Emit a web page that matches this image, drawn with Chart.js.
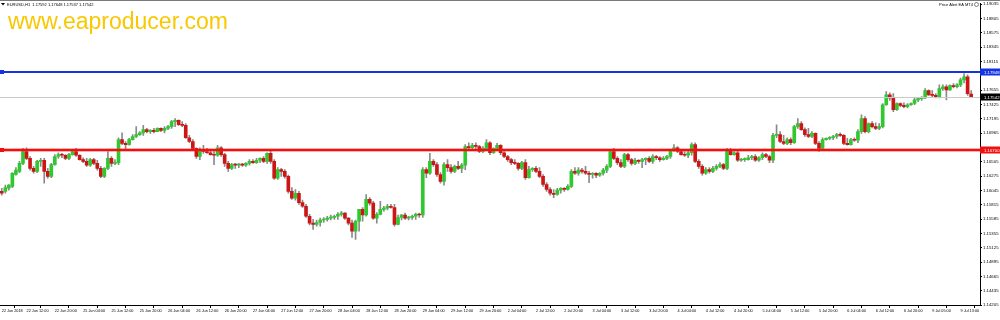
<!DOCTYPE html>
<html>
<head>
<meta charset="utf-8">
<title>EURUSD H1</title>
<script src="https://cdn.jsdelivr.net/npm/chart.js@4.4.1/dist/chart.umd.min.js"></script>
<style>
  html, body { margin: 0; padding: 0; background: #fff; }
  #wrap { position: relative; width: 1000px; height: 320px; overflow: hidden; }
</style>
</head>
<body>
<div id="wrap"><canvas id="chart" width="1000" height="320"></canvas></div>
<script>
// EURUSD H1 candles, 22 Jun 2018 -> 9 Jul 2018
const opens = [
  1.1603,1.1603,1.1608,1.1611,1.1630,1.1635,1.1648,1.1667,1.1656,1.1640,
  1.1635,1.1651,1.1653,1.1635,1.1627,1.1646,1.1659,1.1662,1.1661,1.1656,
  1.1662,1.1667,1.1661,1.1654,1.1651,1.1645,1.1654,1.1648,1.1640,1.1627,
  1.1640,1.1656,1.1648,1.1649,1.1686,1.1680,1.1678,1.1686,1.1691,1.1694,
  1.1697,1.1702,1.1699,1.1701,1.1699,1.1704,1.1701,1.1704,1.1707,1.1715,
  1.1717,1.1710,1.1709,1.1689,1.1683,1.1672,1.1659,1.1670,1.1667,1.1665,
  1.1662,1.1661,1.1673,1.1662,1.1648,1.1640,1.1646,1.1645,1.1646,1.1645,
  1.1648,1.1651,1.1649,1.1653,1.1656,1.1651,1.1664,1.1651,1.1624,1.1638,
  1.1635,1.1627,1.1603,1.1592,1.1600,1.1585,1.1579,1.1563,1.1552,1.1550,
  1.1553,1.1557,1.1558,1.1560,1.1561,1.1563,1.1566,1.1568,1.1560,1.1552,
  1.1539,1.1555,1.1574,1.1565,1.1590,1.1584,1.1560,1.1566,1.1574,1.1576,
  1.1579,1.1577,1.1550,1.1561,1.1565,1.1560,1.1561,1.1563,1.1566,1.1565,
  1.1638,1.1632,1.1651,1.1646,1.1630,1.1619,1.1646,1.1641,1.1635,1.1643,
  1.1640,1.1645,1.1675,1.1673,1.1677,1.1675,1.1667,1.1672,1.1681,1.1665,
  1.1672,1.1677,1.1665,1.1659,1.1654,1.1649,1.1648,1.1640,1.1649,1.1625,
  1.1638,1.1640,1.1635,1.1627,1.1614,1.1606,1.1600,1.1598,1.1605,1.1608,
  1.1606,1.1611,1.1635,1.1632,1.1637,1.1635,1.1632,1.1630,1.1632,1.1629,
  1.1632,1.1637,1.1643,1.1667,1.1656,1.1649,1.1643,1.1662,1.1654,1.1648,
  1.1653,1.1651,1.1654,1.1656,1.1651,1.1659,1.1657,1.1654,1.1656,1.1659,
  1.1669,1.1673,1.1667,1.1662,1.1661,1.1665,1.1678,1.1651,1.1643,1.1632,
  1.1638,1.1635,1.1640,1.1643,1.1646,1.1640,1.1669,1.1662,1.1665,1.1653,
  1.1654,1.1654,1.1657,1.1659,1.1653,1.1657,1.1662,1.1659,1.1653,1.1693,
  1.1694,1.1683,1.1680,1.1686,1.1681,1.1707,1.1712,1.1702,1.1694,1.1691,
  1.1696,1.1680,1.1672,1.1686,1.1688,1.1689,1.1691,1.1694,1.1693,1.1680,
  1.1678,1.1686,1.1685,1.1699,1.1720,1.1699,1.1712,1.1707,1.1704,1.1707,
  1.1742,1.1758,1.1753,1.1734,1.1744,1.1741,1.1739,1.1742,1.1744,1.1750,
  1.1752,1.1753,1.1765,1.1758,1.1757,1.1755,1.1768,1.1771,1.1766,1.1773,
  1.1771,1.1774,1.1782,1.1787,1.17592
];
const highs = [
  1.1608,1.1613,1.1614,1.1633,1.1641,1.1651,1.1672,1.1673,1.1659,1.1643,
  1.1653,1.1656,1.1656,1.1640,1.1648,1.1662,1.1665,1.1664,1.1662,1.1664,
  1.1669,1.1672,1.1662,1.1657,1.1656,1.1656,1.1656,1.1653,1.1643,1.1641,
  1.1667,1.1659,1.1654,1.1689,1.1697,1.1683,1.1688,1.1694,1.1707,1.1699,
  1.1709,1.1704,1.1702,1.1704,1.1705,1.1705,1.1707,1.1709,1.1717,1.1720,
  1.1718,1.1715,1.1712,1.1693,1.1686,1.1673,1.1673,1.1677,1.1672,1.1670,
  1.1667,1.1677,1.1675,1.1664,1.1651,1.1648,1.1648,1.1648,1.1648,1.1649,
  1.1654,1.1654,1.1656,1.1657,1.1659,1.1665,1.1669,1.1654,1.1641,1.1640,
  1.1638,1.1629,1.1609,1.1606,1.1603,1.1589,1.1582,1.1566,1.1558,1.1557,
  1.1560,1.1561,1.1563,1.1565,1.1565,1.1569,1.1571,1.1569,1.1561,1.1557,
  1.1557,1.1574,1.1577,1.1598,1.1593,1.1587,1.1569,1.1587,1.1579,1.1582,
  1.1582,1.1582,1.1565,1.1566,1.1568,1.1563,1.1565,1.1568,1.1568,1.1641,
  1.1641,1.1664,1.1654,1.1649,1.1633,1.1649,1.1654,1.1646,1.1645,1.1651,
  1.1648,1.1678,1.1681,1.1680,1.1681,1.1677,1.1675,1.1686,1.1683,1.1673,
  1.1680,1.1678,1.1667,1.1661,1.1656,1.1654,1.1649,1.1651,1.1654,1.1643,
  1.1641,1.1643,1.1641,1.1630,1.1617,1.1609,1.1606,1.1608,1.1609,1.1609,
  1.1614,1.1638,1.1641,1.1641,1.1640,1.1643,1.1635,1.1633,1.1633,1.1633,
  1.1640,1.1646,1.1670,1.1672,1.1659,1.1654,1.1664,1.1664,1.1656,1.1656,
  1.1654,1.1656,1.1657,1.1659,1.1662,1.1661,1.1659,1.1659,1.1661,1.1670,
  1.1678,1.1675,1.1670,1.1667,1.1669,1.1681,1.1681,1.1654,1.1646,1.1641,
  1.1641,1.1643,1.1646,1.1649,1.1648,1.1672,1.1672,1.1667,1.1669,1.1656,
  1.1657,1.1661,1.1661,1.1662,1.1659,1.1665,1.1664,1.1661,1.1696,1.1710,
  1.1699,1.1693,1.1689,1.1689,1.1709,1.1720,1.1715,1.1705,1.1704,1.1699,
  1.1697,1.1683,1.1689,1.1689,1.1691,1.1693,1.1696,1.1697,1.1694,1.1688,
  1.1688,1.1689,1.1702,1.1726,1.1723,1.1713,1.1715,1.1713,1.1712,1.1744,
  1.1763,1.1761,1.1760,1.1745,1.1745,1.1745,1.1744,1.1745,1.1753,1.1753,
  1.1755,1.1768,1.1766,1.1765,1.1760,1.1774,1.1774,1.1774,1.1774,1.1776,
  1.1776,1.1785,1.1792,1.1790,1.17648
];
const lows = [
  1.1597,1.1600,1.1605,1.1609,1.1629,1.1633,1.1646,1.1654,1.1637,1.1632,
  1.1633,1.1643,1.1616,1.1624,1.1625,1.1645,1.1656,1.1657,1.1654,1.1654,
  1.1661,1.1659,1.1653,1.1649,1.1643,1.1643,1.1646,1.1637,1.1625,1.1625,
  1.1638,1.1643,1.1646,1.1646,1.1678,1.1670,1.1677,1.1685,1.1689,1.1693,
  1.1693,1.1697,1.1696,1.1697,1.1699,1.1699,1.1697,1.1702,1.1704,1.1707,
  1.1709,1.1707,1.1688,1.1681,1.1670,1.1656,1.1654,1.1664,1.1664,1.1661,
  1.1646,1.1659,1.1659,1.1643,1.1635,1.1638,1.1640,1.1641,1.1643,1.1643,
  1.1645,1.1648,1.1648,1.1649,1.1649,1.1648,1.1648,1.1622,1.1622,1.1627,
  1.1624,1.1600,1.1590,1.1589,1.1582,1.1577,1.1561,1.1549,1.1542,1.1547,
  1.1547,1.1553,1.1555,1.1557,1.1558,1.1558,1.1563,1.1558,1.1549,1.1529,
  1.1526,1.1539,1.1555,1.1563,1.1581,1.1558,1.1552,1.1565,1.1571,1.1573,
  1.1576,1.1547,1.1549,1.1557,1.1558,1.1557,1.1558,1.1558,1.1561,1.1561,
  1.1625,1.1630,1.1643,1.1627,1.1616,1.1613,1.1635,1.1632,1.1633,1.1638,
  1.1633,1.1638,1.1670,1.1670,1.1672,1.1665,1.1665,1.1670,1.1662,1.1664,
  1.1670,1.1662,1.1657,1.1651,1.1646,1.1646,1.1637,1.1638,1.1622,1.1624,
  1.1635,1.1633,1.1625,1.1611,1.1603,1.1597,1.1593,1.1597,1.1600,1.1603,
  1.1605,1.1609,1.1630,1.1629,1.1632,1.1630,1.1617,1.1624,1.1625,1.1627,
  1.1629,1.1633,1.1641,1.1654,1.1646,1.1641,1.1641,1.1651,1.1645,1.1646,
  1.1648,1.1641,1.1646,1.1649,1.1648,1.1654,1.1651,1.1653,1.1654,1.1656,
  1.1667,1.1665,1.1661,1.1659,1.1657,1.1661,1.1649,1.1640,1.1629,1.1630,
  1.1632,1.1633,1.1637,1.1641,1.1638,1.1638,1.1661,1.1661,1.1651,1.1651,
  1.1651,1.1653,1.1654,1.1651,1.1651,1.1654,1.1657,1.1649,1.1649,1.1689,
  1.1681,1.1678,1.1678,1.1678,1.1680,1.1704,1.1701,1.1691,1.1689,1.1689,
  1.1678,1.1667,1.1670,1.1685,1.1686,1.1686,1.1688,1.1691,1.1678,1.1677,
  1.1677,1.1683,1.1681,1.1696,1.1697,1.1697,1.1705,1.1702,1.1702,1.1705,
  1.1741,1.1749,1.1731,1.1733,1.1739,1.1737,1.1737,1.1741,1.1742,1.1747,
  1.1749,1.1752,1.1757,1.1755,1.1753,1.1753,1.1765,1.1750,1.1765,1.1769,
  1.1769,1.1771,1.1777,1.1757,1.17537
];
const closes = [
  1.1600,1.1609,1.1613,1.1632,1.1637,1.1648,1.1667,1.1656,1.1640,1.1635,
  1.1651,1.1653,1.1635,1.1627,1.1646,1.1659,1.1662,1.1661,1.1656,1.1662,
  1.1667,1.1661,1.1654,1.1651,1.1645,1.1654,1.1648,1.1640,1.1627,1.1640,
  1.1656,1.1648,1.1649,1.1686,1.1680,1.1678,1.1686,1.1691,1.1694,1.1697,
  1.1702,1.1699,1.1701,1.1699,1.1704,1.1701,1.1704,1.1707,1.1715,1.1717,
  1.1710,1.1709,1.1689,1.1683,1.1672,1.1659,1.1670,1.1667,1.1665,1.1662,
  1.1661,1.1673,1.1662,1.1648,1.1640,1.1646,1.1645,1.1646,1.1645,1.1648,
  1.1651,1.1649,1.1653,1.1656,1.1651,1.1664,1.1651,1.1624,1.1638,1.1635,
  1.1627,1.1603,1.1592,1.1600,1.1585,1.1579,1.1563,1.1552,1.1550,1.1553,
  1.1557,1.1558,1.1560,1.1561,1.1563,1.1566,1.1568,1.1560,1.1552,1.1539,
  1.1555,1.1574,1.1565,1.1590,1.1584,1.1560,1.1566,1.1574,1.1576,1.1579,
  1.1577,1.1550,1.1561,1.1565,1.1560,1.1561,1.1563,1.1566,1.1565,1.1638,
  1.1632,1.1651,1.1646,1.1630,1.1619,1.1646,1.1641,1.1635,1.1643,1.1640,
  1.1645,1.1675,1.1673,1.1677,1.1675,1.1667,1.1672,1.1681,1.1665,1.1672,
  1.1677,1.1665,1.1659,1.1654,1.1649,1.1648,1.1640,1.1649,1.1625,1.1638,
  1.1640,1.1635,1.1627,1.1614,1.1606,1.1600,1.1598,1.1605,1.1608,1.1606,
  1.1611,1.1635,1.1632,1.1637,1.1635,1.1632,1.1630,1.1632,1.1629,1.1632,
  1.1637,1.1643,1.1667,1.1656,1.1649,1.1643,1.1662,1.1654,1.1648,1.1653,
  1.1651,1.1654,1.1656,1.1651,1.1659,1.1657,1.1654,1.1656,1.1659,1.1669,
  1.1673,1.1667,1.1662,1.1661,1.1665,1.1678,1.1651,1.1643,1.1632,1.1638,
  1.1635,1.1640,1.1643,1.1646,1.1640,1.1669,1.1662,1.1665,1.1653,1.1654,
  1.1654,1.1657,1.1659,1.1653,1.1657,1.1662,1.1659,1.1653,1.1693,1.1694,
  1.1683,1.1680,1.1686,1.1681,1.1707,1.1712,1.1702,1.1694,1.1691,1.1696,
  1.1680,1.1672,1.1686,1.1688,1.1689,1.1691,1.1694,1.1693,1.1680,1.1678,
  1.1686,1.1685,1.1699,1.1720,1.1699,1.1712,1.1707,1.1704,1.1707,1.1742,
  1.1758,1.1753,1.1734,1.1744,1.1741,1.1739,1.1742,1.1744,1.1750,1.1752,
  1.1753,1.1765,1.1758,1.1757,1.1755,1.1768,1.1771,1.1766,1.1773,1.1771,
  1.1774,1.1782,1.1787,1.1760,1.17542
];

// time axis: MT4 writes the date at the left edge, then a label every 8 bars
const firstLabel = "22 Jun 2018";
const timeLabels = [
  "22 Jun 12:00","22 Jun 20:00","25 Jun 04:00","25 Jun 12:00","25 Jun 20:00",
  "26 Jun 04:00","26 Jun 12:00","26 Jun 20:00","27 Jun 04:00","27 Jun 12:00",
  "27 Jun 20:00","28 Jun 04:00","28 Jun 12:00","28 Jun 20:00","29 Jun 04:00",
  "29 Jun 12:00","29 Jun 20:00","2 Jul 04:00","2 Jul 12:00","2 Jul 20:00",
  "3 Jul 04:00","3 Jul 12:00","3 Jul 20:00","4 Jul 04:00","4 Jul 12:00",
  "4 Jul 20:00","5 Jul 04:00","5 Jul 12:00","5 Jul 20:00","6 Jul 04:00",
  "6 Jul 12:00","6 Jul 20:00","9 Jul 05:00","9 Jul 13:00"
];
const FIRST_TIME_BAR = 7;
const BARS_PER_LABEL = 8;
const EMPTY_SLOTS = 2;   // little gap after the last bar

// price scale labels
const priceTicks = [
  1.14205,1.14435,1.14665,1.14895,1.15125,1.15355,1.15585,1.15815,1.16045,
  1.16275,1.16505,1.16965,1.17195,1.17425,1.17655,1.18115,1.18345,1.18575,
  1.18805,1.19035
];
const PRICE_MIN = 1.14205;
const PRICE_MAX = 1.19045;

// horizontal lines
const resistance = 1.17948;
const support = 1.16700;
const lastPrice = 1.17542;

const BULL = "#2fc92f";
const BEAR = "#cc1616";
const WICK = "#8a8a8a";
const TINY = "Liberation Sans";

const slots = opens.map((_, i) => String(i));
for (let k = 0; k < EMPTY_SLOTS; k++) slots.push("");

const wickData = lows.map((l, i) => [l, highs[i]]);
const bodyData = opens.map((o, i) => [o, closes[i]]);
const bodyColors = opens.map((o, i) => (closes[i] >= o ? BULL : BEAR));

function labelFor(idx) {
  if (idx === 0) return firstLabel;
  const k = idx - FIRST_TIME_BAR;
  if (k >= 0 && k % BARS_PER_LABEL === 0 && k / BARS_PER_LABEL < timeLabels.length) {
    return timeLabels[k / BARS_PER_LABEL];
  }
  return null;
}

// header texts, objects and price tags drawn on top like MT4 does
const mtOverlay = {
  id: "mtOverlay",
  afterDraw(chart) {
    const ctx = chart.ctx;
    const y = chart.scales.y;
    const area = chart.chartArea;
    ctx.save();

    // window frame
    ctx.fillStyle = "#7a7a7a";
    ctx.fillRect(0, 0, chart.width, 1);

    // horizontal lines
    const hl = (price, color, width) => {
      const py = Math.round(y.getPixelForValue(price));
      ctx.fillStyle = color;
      ctx.fillRect(area.left, py - Math.floor(width / 2), area.right - area.left, width);
      return py;
    };
    const gy = hl(lastPrice, "#c9c9c9", 1);
    ctx.globalAlpha = 0.35;
    hl(support, "#ff2020", 4);
    ctx.globalAlpha = 1;
    const ry = hl(support, "#f01010", 2);
    const by = hl(resistance, "#1434e0", 2);

    // anchor squares at the left end
    ctx.fillStyle = "#f01010";
    ctx.fillRect(0, ry - 2, 4, 4);
    ctx.fillStyle = "#1434e0";
    ctx.fillRect(0, by - 2, 4, 4);

    // price tags on the axis
    ctx.font = "4.3px " + TINY;
    ctx.textBaseline = "middle";
    ctx.textAlign = "left";
    const tag = (py, bg, txt) => {
      ctx.fillStyle = bg;
      ctx.fillRect(area.right, py - 3.5, chart.width - area.right, 7);
      ctx.fillStyle = "#fff";
      ctx.fillText(txt, area.right + 4, py + 0.5);
    };
    tag(by, "#1434e0", resistance.toFixed(5));
    tag(ry, "#f01010", support.toFixed(5));
    tag(gy, "#000", lastPrice.toFixed(5));

    // symbol line
    ctx.fillStyle = "#000";
    ctx.beginPath();
    ctx.moveTo(1, 3); ctx.lineTo(5, 3); ctx.lineTo(3, 5.5); ctx.closePath();
    ctx.fill();
    ctx.font = "4px " + TINY;
    ctx.fillText("EURUSD,H1  " + opens[opens.length - 1].toFixed(5) + " " +
      highs[highs.length - 1].toFixed(5) + " " + lows[lows.length - 1].toFixed(5) + " " +
      closes[closes.length - 1].toFixed(5), 7, 4.5);

    // EA name top right
    ctx.textAlign = "right";
    ctx.fillText("Price Alert EA MT4", 973, 4.5);
    ctx.strokeStyle = "#333";
    ctx.lineWidth = 0.6;
    ctx.beginPath();
    ctx.arc(976.5, 4.5, 2, 0, Math.PI * 2);
    ctx.stroke();

    // watermark
    ctx.textAlign = "left";
    ctx.textBaseline = "alphabetic";
    ctx.font = "23px " + TINY;
    ctx.fillStyle = "#f9c800";
    ctx.fillText("www.eaproducer.com", 8, 29);

    ctx.restore();
  }
};

new Chart(document.getElementById("chart"), {
  type: "bar",
  data: {
    labels: slots,
    datasets: [
      {
        label: "body",
        data: bodyData,
        backgroundColor: bodyColors,
        borderWidth: 0,
        barThickness: 3,
        minBarLength: 1,
        grouped: false,
        order: 0
      },
      {
        label: "wick",
        data: wickData,
        backgroundColor: WICK,
        borderWidth: 0,
        barThickness: 1,
        grouped: false,
        order: 1
      }
    ]
  },
  options: {
    responsive: false,
    animation: false,
    devicePixelRatio: 1,
    layout: { padding: { top: 2, left: 0, right: 0, bottom: 0 } },
    plugins: { legend: { display: false }, tooltip: { enabled: false } },
    scales: {
      x: {
        offset: true,
        afterFit: s => { s.height = 15; },
        border: { display: true, color: "#000", width: 1 },
        grid: { drawOnChartArea: false, drawTicks: true, tickLength: 3, color: "#000" },
        ticks: {
          autoSkip: false,
          maxRotation: 0,
          minRotation: 0,
          align: "start",
          padding: 1,
          color: "#000",
          font: { size: 3.8, family: TINY },
          callback: (val, idx) => labelFor(idx)
        }
      },
      y: {
        position: "right",
        min: PRICE_MIN,
        max: PRICE_MAX,
        afterFit: s => { s.width = 20; },
        afterBuildTicks: s => { s.ticks = priceTicks.map(v => ({ value: v })); },
        border: { display: true, color: "#000", width: 1 },
        grid: { drawOnChartArea: false, drawTicks: true, tickLength: 2, color: "#000" },
        ticks: {
          padding: 1,
          color: "#000",
          font: { size: 4.3, family: TINY },
          callback: v => Number(v).toFixed(5)
        }
      }
    }
  },
  plugins: [mtOverlay]
});
</script>
</body>
</html>
